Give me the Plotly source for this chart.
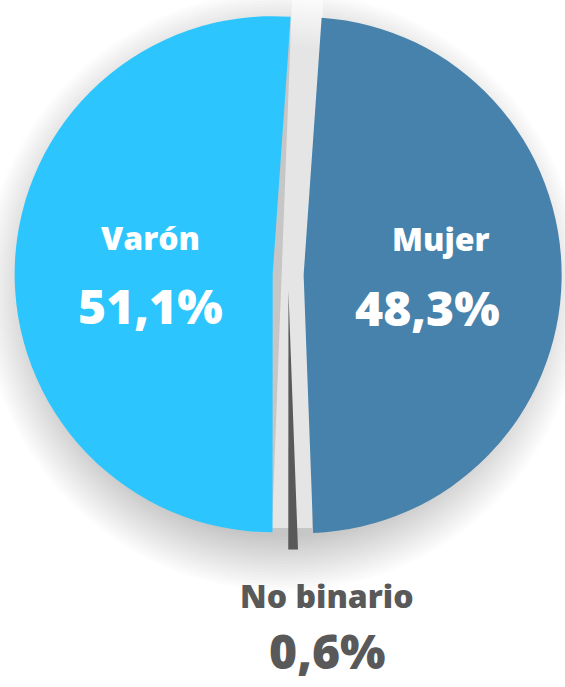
import plotly.graph_objects as go

# data
labels = ["Mujer", "No binario", "Varón"]
values = [48.3, 0.6, 51.1]
colors = ["#4682AB", "#595959", "#2DC5FE"]
pulls = [0.06, 0.065, 0.06]

W, H = 565, 687

fig = go.Figure()
fig.add_trace(go.Pie(
    labels=labels,
    values=values,
    sort=False,
    direction="clockwise",
    rotation=4.0,
    pull=pulls,
    marker=dict(colors=colors, line=dict(width=0)),
    textinfo="none",
    hoverinfo="label+value",
    showlegend=False,
    domain=dict(x=[0.02, 1.0], y=[0.2, 1.0]),
))


def px(x):
    return x / W


def py(y):
    return 1 - y / H


# soft drop shadow made of stacked translucent circles
shapes = []
cx, cy = 283, 291
for r in range(246, 302, 3):
    shapes.append(dict(
        type="circle", xref="paper", yref="paper", layer="below",
        x0=px(cx - r), x1=px(cx + r), y0=py(cy + r), y1=py(cy - r),
        fillcolor="rgba(0,0,0,0.012)", line=dict(width=0),
    ))
# lighter shadow inside the gap between the slices
gap = [(292, 0), (323, 0), (312, 528), (272, 528)]
path = "M " + " L ".join(f"{px(x):.4f},{py(y):.4f}" for x, y in gap) + " Z"
shapes.append(dict(type="path", xref="paper", yref="paper", layer="below",
                   path=path, fillcolor="rgba(255,255,255,0.55)", line=dict(width=0)))


def fmt(v):
    return f"{v:.1f}".replace(".", ",") + "%"


# label positions (px): label x, label y, value x, value y, colour
label_pos = {"Mujer": (441, 238, 427, 307, "white"),
             "Varón": (150, 237, 150, 306, "white"),
             "No binario": (327, 595, 327, 650, "#595959")}

annotations = []
for lab, val in zip(labels, values):
    x1, y1, x2, y2, col = label_pos[lab]
    annotations.append(dict(
        x=px(x1), y=py(y1), xref="paper", yref="paper", showarrow=False,
        xanchor="center", yanchor="middle",
        text=lab, font=dict(family="Open Sans", size=32, color=col, weight=800),
    ))
    annotations.append(dict(
        x=px(x2), y=py(y2), xref="paper", yref="paper", showarrow=False,
        xanchor="center", yanchor="middle",
        text=fmt(val), font=dict(family="Open Sans", size=48, color=col, weight=800),
    ))

fig.update_layout(
    width=W, height=H,
    margin=dict(l=0, r=0, t=0, b=0),
    paper_bgcolor="white",
    plot_bgcolor="white",
    shapes=shapes,
    annotations=annotations,
)

fig.write_html("out.html", config={"displayModeBar": False},
               post_script="document.body.style.margin='0';")
